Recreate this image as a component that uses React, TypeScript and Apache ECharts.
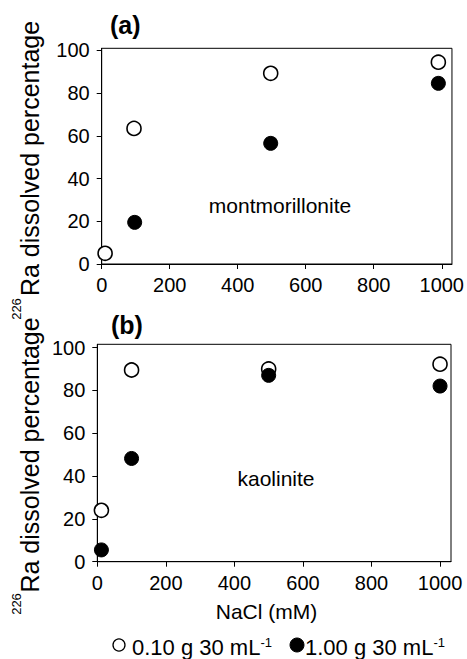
import React, { useEffect, useRef } from 'react';
import * as echarts from 'echarts';

const xTicks = [0, 200, 400, 600, 800, 1000];
const yTicks = [0, 20, 40, 60, 80, 100];

const montLow = [[10, 5], [95, 63.5], [497, 89.3], [990, 94.5]];
const montHigh = [[97, 19.5], [497, 56.5], [990, 84.6]];
const kaoLow = [[12, 24], [100, 89.5], [500, 90], [1000, 92.2]];
const kaoHigh = [[12, 5.5], [100, 48.2], [500, 87], [1000, 82]];

const seriesNames = ['0.10 g 30 mL-1', '1.00 g 30 mL-1'];
const legendMain = ['0.10 g 30 mL', '1.00 g 30 mL'];
const legendSup = '-1';
const panelLabels = ['(a)', '(b)'];
const mineralLabels = ['montmorillonite', 'kaolinite'];
const xTitle = 'NaCl (mM)';
const yTitle = 'Ra dissolved percentage';
const yTitleSup = '226';

const FONT = '"Liberation Sans", Arial, Helvetica, sans-serif';

export default function App() {
  const ref = useRef<HTMLDivElement>(null);
  useEffect(() => {
    if (!ref.current) return;
    const chart = echarts.init(ref.current, null, { renderer: 'svg' });

    const xAxisBase = (gridIndex: number, max: number) => ({
      type: 'value',
      gridIndex,
      min: 0,
      max,
      axisLine: { show: true, lineStyle: { color: '#000', width: 1 } },
      axisTick: { show: true, customValues: xTicks, length: 5, inside: false, lineStyle: { color: '#000', width: 1 } },
      axisLabel: { customValues: xTicks, fontSize: 20, color: '#000', fontFamily: FONT, margin: 11, formatter: (v: number) => String(v) },
      splitLine: { show: false },
    });
    const yAxisBase = (gridIndex: number, max: number) => ({
      type: 'value',
      gridIndex,
      min: 0,
      max,
      axisLine: { show: true, lineStyle: { color: '#000', width: 1 } },
      axisTick: { show: true, customValues: yTicks, length: 5, inside: false, lineStyle: { color: '#000', width: 1 } },
      axisLabel: { customValues: yTicks, fontSize: 20, color: '#000', fontFamily: FONT, margin: 12, formatter: (v: number) => String(v) },
      splitLine: { show: false },
    });

    const openStyle = { color: '#fff', borderColor: '#000', borderWidth: 1.6, opacity: 1 };
    const fillStyle = { color: '#000', borderColor: '#000', borderWidth: 1, opacity: 1 };

    const legendText = (i: number) => ({
      type: 'text',
      x: i === 0 ? 132 : 305,
      y: 647,
      style: {
        text: `{a|${legendMain[i]}}{s|${legendSup}}`,
        align: 'left',
        verticalAlign: 'middle',
        fill: '#000',
        rich: {
          a: { fontSize: 22, fontFamily: FONT, fill: '#000' },
          s: { fontSize: 13, fontFamily: FONT, fill: '#000', verticalAlign: 'top' },
        },
      },
    });

    chart.setOption({
      animation: false,
      backgroundColor: '#fff',
      grid: [
        { left: 101.7, top: 48.3, width: 352.3, height: 215.7, show: true, borderColor: '#000', borderWidth: 1, backgroundColor: 'transparent' },
        { left: 97.3, top: 344.3, width: 353.7, height: 217.4, show: true, borderColor: '#000', borderWidth: 1, backgroundColor: 'transparent' },
      ],
      xAxis: [xAxisBase(0, 1030), xAxisBase(1, 1032)],
      yAxis: [yAxisBase(0, 101), yAxisBase(1, 101.5)],
      series: [
        { name: seriesNames[0], type: 'scatter', xAxisIndex: 0, yAxisIndex: 0, data: montLow, symbol: 'circle', symbolSize: 14, itemStyle: openStyle },
        { name: seriesNames[1], type: 'scatter', xAxisIndex: 0, yAxisIndex: 0, data: montHigh, symbol: 'circle', symbolSize: 14, itemStyle: fillStyle },
        { name: seriesNames[0], type: 'scatter', xAxisIndex: 1, yAxisIndex: 1, data: kaoLow, symbol: 'circle', symbolSize: 14, itemStyle: openStyle },
        { name: seriesNames[1], type: 'scatter', xAxisIndex: 1, yAxisIndex: 1, data: kaoHigh, symbol: 'circle', symbolSize: 14, itemStyle: fillStyle },
      ],
      graphic: [
        { type: 'text', x: 110, y: 25, style: { text: panelLabels[0], fontSize: 25, fontWeight: 'bold', fontFamily: FONT, fill: '#000', align: 'left', verticalAlign: 'middle' } },
        { type: 'text', x: 111, y: 325, style: { text: panelLabels[1], fontSize: 25, fontWeight: 'bold', fontFamily: FONT, fill: '#000', align: 'left', verticalAlign: 'middle' } },
        { type: 'text', x: 280, y: 205, style: { text: mineralLabels[0], fontSize: 21, fontFamily: FONT, fill: '#000', align: 'center', verticalAlign: 'middle' } },
        { type: 'text', x: 276, y: 478, style: { text: mineralLabels[1], fontSize: 21, fontFamily: FONT, fill: '#000', align: 'center', verticalAlign: 'middle' } },
        { type: 'text', x: 266.5, y: 611, style: { text: xTitle, fontSize: 21, fontFamily: FONT, fill: '#000', align: 'center', verticalAlign: 'middle' } },
        { type: 'text', x: 30, y: 158.5, rotation: Math.PI / 2, style: { text: yTitle, fontSize: 25, fontFamily: FONT, fill: '#000', align: 'center', verticalAlign: 'middle' } },
        { type: 'text', x: 30, y: 455, rotation: Math.PI / 2, style: { text: yTitle, fontSize: 25, fontFamily: FONT, fill: '#000', align: 'center', verticalAlign: 'middle' } },
        { type: 'text', x: 16.5, y: 309, rotation: Math.PI / 2, style: { text: yTitleSup, fontSize: 13, fontFamily: FONT, fill: '#000', align: 'center', verticalAlign: 'middle' } },
        { type: 'text', x: 16.5, y: 604, rotation: Math.PI / 2, style: { text: yTitleSup, fontSize: 13, fontFamily: FONT, fill: '#000', align: 'center', verticalAlign: 'middle' } },
        { type: 'circle', shape: { cx: 119, cy: 645, r: 6 }, style: { fill: '#fff', stroke: '#000', lineWidth: 1.3 } },
        { type: 'circle', shape: { cx: 297, cy: 645, r: 7 }, style: { fill: '#000', stroke: '#000', lineWidth: 1 } },
        legendText(0),
        legendText(1),
      ],
    });
    return () => chart.dispose();
  }, []);
  return <div ref={ref} style={{ position: 'absolute', left: 0, top: 0, width: 467, height: 659, background: '#fff' }} />;
}
